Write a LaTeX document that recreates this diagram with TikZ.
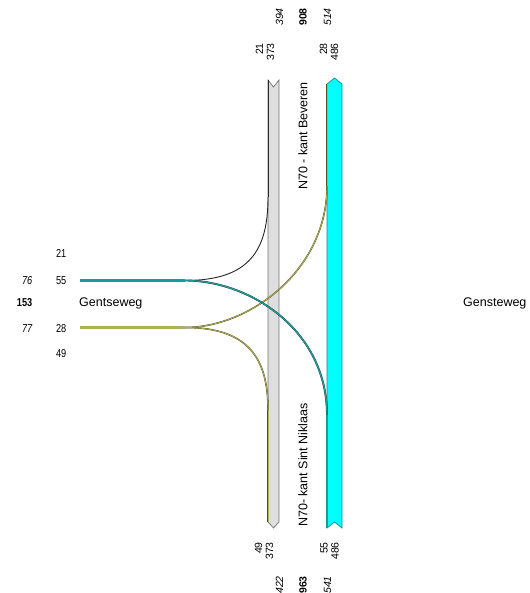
\documentclass[tikz,border=0pt]{standalone}
\usepackage{fontspec}
\setmainfont{Liberation Sans}
\definecolor{aqua}{RGB}{0,255,255}
\definecolor{aquaedge}{RGB}{20,140,140}
\definecolor{tealin}{RGB}{25,155,155}
\definecolor{olivein}{RGB}{175,175,90}
\definecolor{oliveedge}{RGB}{80,80,30}
\definecolor{barfill}{RGB}{222,222,222}
\newcommand{\nx}[1]{\scalebox{0.8}[1]{#1}}
\begin{document}
\begin{tikzpicture}[x=1pt,y=-1pt,
  num/.style={font=\fontsize{10.5}{11}\selectfont, inner sep=0pt},
  numi/.style={num, font=\fontsize{10.5}{11}\selectfont\itshape},
  numb/.style={num, font=\fontsize{10.5}{11}\selectfont\bfseries},
  hnum/.style={font=\fontsize{11.5}{12}\selectfont, inner sep=0pt, anchor=east},
  hnumi/.style={hnum, font=\fontsize{11.5}{12}\selectfont\itshape},
  hnumb/.style={hnum, font=\fontsize{11.5}{12}\selectfont\bfseries},
  lbl/.style={font=\fontsize{12.5}{13}\selectfont, inner sep=0pt},
  vnum/.style={num, rotate=90, align=right, anchor=east},
  vnumi/.style={numi, rotate=90, anchor=east},
  vnumb/.style={numb, rotate=90, anchor=east},
  tealln/.style={draw=black!80, line width=2.8pt, postaction={draw=tealin, line width=2.1pt}},
  oliveln/.style={draw=oliveedge, line width=2.8pt, postaction={draw=olivein, line width=2.1pt}},
  tealc/.style={draw=black!80, line width=1.9pt, postaction={draw=tealin, line width=1.3pt}},
  olivec/.style={draw=oliveedge, line width=1.5pt, postaction={draw=olivein, line width=0.8pt}},
  blackc/.style={draw=black!85, line width=0.9pt},
  graybar/.style={fill=barfill, draw=black!55, line width=0.7pt},
  cyanbar/.style={fill=aqua, draw=aquaedge, line width=0.7pt}
]
\useasboundingbox (0,0) rectangle (529,593);

% bars
\draw[graybar] (268,80) -- (273.5,87) -- (279,80) -- (279,522) -- (273.5,528) -- (268,522) -- cycle;
\draw[cyanbar] (327,84) -- (334.5,78) -- (342,84) -- (342,528) -- (334.5,522) -- (327,528) -- cycle;

% coordinates
\coordinate (tw) at (80,280.5);
\coordinate (ts) at (185,280.5);
\coordinate (ow) at (80,327.5);
\coordinate (os) at (185,327.5);
\coordinate (gTop) at (268,80);
\coordinate (gIn) at (268,197);
\coordinate (gOut) at (268,410);
\coordinate (gBot) at (268,522);
\coordinate (cTop) at (327,84);
\coordinate (cIn) at (327,186);
\coordinate (cOut) at (327,415);
\coordinate (cBot) at (327,528);

% edge lines along bars
\draw[blackc] (gTop) -- (gIn);
\draw[olivec] (gOut) -- (gBot);
\draw[olivec] (cIn) -- (cTop);
\draw[tealc] (cOut) -- (cBot);

% curves
\draw[blackc] (ts) .. controls (250,280.5) and (268,250) .. (gIn);
\draw[olivec] (os) .. controls (250,327.5) and (327,270) .. (cIn);
\draw[tealc] (ts) .. controls (250,280.5) and (327,330) .. (cOut);
\draw[olivec] (os) .. controls (250,327.5) and (268,360) .. (gOut);

% left straight lines
\draw[tealln] (tw) -- (ts);
\draw[oliveln] (ow) -- (os);

% left labels
\node[hnum] (n21) at (66.5,253.5) {\nx{21}};
\node[hnumi] (n76) at (32.5,281) {\nx{76}};
\node[hnum] (n55) at (66.5,281) {\nx{55}};
\node[hnumb] (n153) at (32.5,302.5) {\nx{153}};
\node[lbl, anchor=west] (gw) at (79,303) {Gentseweg};
\node[hnumi] (n77) at (32.5,328.5) {\nx{77}};
\node[hnum] (n28) at (66.5,328.5) {\nx{28}};
\node[hnum] (n49) at (66.5,353.5) {\nx{49}};

\node[lbl, anchor=west] (gs) at (463,303) {Gensteweg};

% top labels
\node[vnumi] (t394) at (279.5,8) {394};
\node[vnumb] (t908) at (303,8) {908};
\node[vnumi] (t514) at (327.5,8) {514};
\node[vnum] (tg) at (265,43) {21\\373};
\node[vnum] (tc) at (329,43) {28\\486};

% bottom labels
\node[vnum] (bg) at (264,542) {49\\373};
\node[vnum] (bc) at (329.5,542) {55\\486};
\node[vnumi] (b422) at (279.5,576) {422};
\node[vnumb] (b963) at (303,576) {963};
\node[vnumi] (b541) at (327.5,576) {541};

% road names
\node[lbl, rotate=90, anchor=west] (nb) at (303,190) {N70 - kant Beveren};
\node[lbl, rotate=90, anchor=west] (ns) at (303,527) {N70- kant Sint Niklaas};
\end{tikzpicture}
\end{document}
